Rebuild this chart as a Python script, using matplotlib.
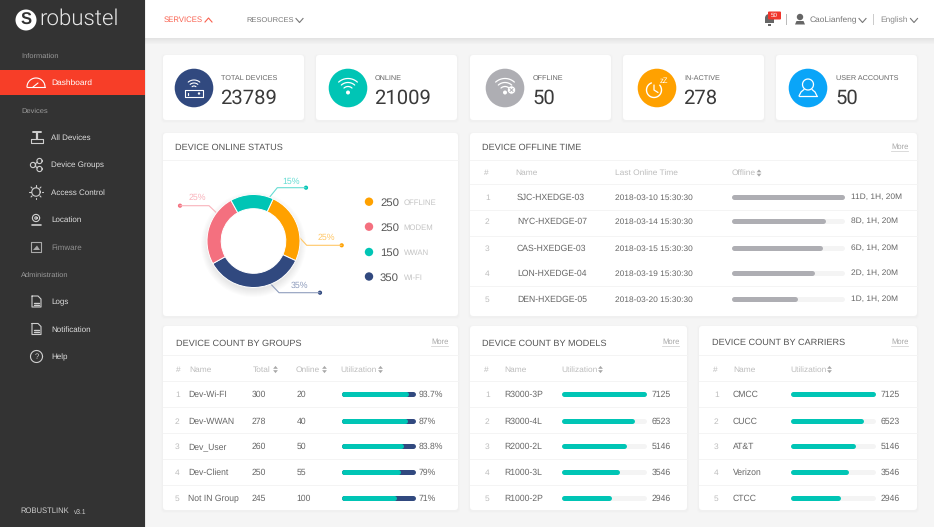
import numpy as np
import matplotlib
matplotlib.use("Agg")
import matplotlib.pyplot as plt
from matplotlib.patches import Rectangle, Circle, FancyBboxPatch, Polygon

plt.rcParams['font.family'] = ['Liberation Sans', 'DejaVu Sans']
plt.rcParams['text.hinting'] = 'no_hinting'

# KPI cards
kpi_labels = ["TOTAL DEVICES", "ONLINE", "OFFLINE", "IN-ACTIVE", "USER ACCOUNTS"]
kpi_values = ["23789", "21009", "50", "278", "50"]

# donut
status_labels = ["OFFLINE", "MODEM", "WWAN", "WI-FI"]
status_values = [250, 250, 150, 350]

# offline table
offline_names = ["SJC-HXEDGE-03", "NYC-HXEDGE-07", "CAS-HXEDGE-03", "LON-HXEDGE-04", "DEN-HXEDGE-05"]
offline_times = ["2018-03-10 15:30:30", "2018-03-14 15:30:30", "2018-03-15 15:30:30",
                 "2018-03-19 15:30:30", "2018-03-20 15:30:30"]
offline_text = ["11D, 1H, 20M", "8D, 1H, 20M", "6D, 1H, 20M", "2D, 1H, 20M", "1D, 1H, 20M"]
offline_fill = [100, 83, 80, 73, 56.5]

# groups table
group_names = ["Dev-Wi-FI", "Dev-WWAN", "Dev_User", "Dev-Client", "Not IN Group"]
group_total = [300, 278, 260, 250, 245]
group_online = [20, 40, 50, 55, 100]
group_util = ["93.7%", "87%", "83.8%", "79%", "71%"]
group_fill = [90, 88.5, 84, 79, 73]

# models and carriers
model_names = ["R3000-3P", "R3000-4L", "R2000-2L", "R1000-3L", "R1000-2P"]
carrier_names = ["CMCC", "CUCC", "AT&T", "Verizon", "CTCC"]
count_values = [7125, 6523, 5146, 3546, 2946]
count_fill = [100, 85, 75, 67, 57]

# sidebar
menu_top = ["All Devices", "Device Groups", "Access Control", "Location", "Fimware"]
menu_admin = ["Logs", "Notification", "Help"]

W, H = 934, 527
RED = "#f73e28"
NAVY = "#31497f"
TEAL = "#00c5b5"
ORANGE = "#ffa100"
PINK = "#f4707f"
GRAY = "#aeaeb3"
BLUE = "#0aa5f8"
TXT = "#4a4a4a"
LIGHT = "#bdbdbd"

fig = plt.figure(figsize=(W / 100, H / 100), dpi=100, facecolor="#f5f5f5")
ax = fig.add_axes([0, 0, 1, 1])
ax.set_xlim(0, W)
ax.set_ylim(H, 0)
ax.axis("off")


def txt(x, y, s, size=6.2, color=TXT, ha="left", **kw):
    kw.setdefault("va", "center_baseline")
    ax.text(x, y, s, fontsize=size, color=color, ha=ha, **kw)


def rect(x0, y0, x1, y1, color, **kw):
    ax.add_patch(Rectangle((x0, y0), x1 - x0, y1 - y0, facecolor=color, edgecolor="none", **kw))


def card(x0, y0, x1, y1):
    for grow, alpha in [(2, 0.008), (1, 0.012)]:
        ax.add_patch(FancyBboxPatch((x0 - grow, y0 - grow + 1), x1 - x0 + 2 * grow, y1 - y0 + 2 * grow,
                                    boxstyle="round,pad=0,rounding_size=3", fc="black", ec="none", alpha=alpha))
    ax.add_patch(FancyBboxPatch((x0, y0), x1 - x0, y1 - y0, boxstyle="round,pad=0,rounding_size=3",
                                fc="white", ec="none"))


def arc(cx, cy, r, a0, a1, color="white", lw=0.9):
    t = np.radians(np.linspace(a0, a1, 40))
    ax.plot(cx + r * np.cos(t), cy - r * np.sin(t), color=color, lw=lw, solid_capstyle="round")


def seg(xs, ys, color="white", lw=0.9):
    ax.plot(xs, ys, color=color, lw=lw, solid_capstyle="round", solid_joinstyle="round")


def chevron(x, y, color, up=False):
    d = -2 if up else 2
    ax.plot([x - 3.5, x, x + 3.5], [y - d, y + d, y - d], color=color, lw=0.8, zorder=4)


def sort_icon(x, y):
    ax.add_patch(Polygon([(x - 2.4, y - 0.7), (x + 2.4, y - 0.7), (x, y - 3.6)], fc="#a8a8a8", ec="none"))
    ax.add_patch(Polygon([(x - 2.4, y + 0.7), (x + 2.4, y + 0.7), (x, y + 3.6)], fc="#a8a8a8", ec="none"))


def wifi(cx, cy, color="white"):
    for r in (6, 10, 14):
        arc(cx, cy, r, 48, 132, color=color, lw=0.9)
    ax.add_patch(Circle((cx, cy), 2, fc=color, ec="none"))


def bar_axes(x0, x1, rows):
    # one axes per table, width of the track, y in rows
    cap = 2.5
    a = fig.add_axes([(x0 + cap) / W, 1 - 510 / H, (x1 - x0 - 2 * cap) / W, (510 - 184) / H])
    a.set_xlim(0, 100)
    a.set_ylim(510, 184)
    a.axis("off")
    a.patch.set_alpha(0)
    return a


def progress(a, rows, fill, color, track="#f4f4f4"):
    for y, v in zip(rows, fill):
        a.plot([0, 100], [y, y], color=track, lw=3.6, solid_capstyle="round", clip_on=False)
        a.plot([0, v], [y, y], color=color, lw=3.6, solid_capstyle="round", clip_on=False)


# sidebar and top bar
rect(145, 0, W, 38, "white", zorder=1)
for i in range(6):
    rect(145, 38 + i, W, 39 + i, "black", alpha=0.07 - 0.011 * i)
rect(0, 0, 145, H, "#333333", zorder=2)
rect(145, 0, 146, H, "black", alpha=0.06, zorder=2)
rect(0, 70, 145, 95, RED, zorder=3)

# logo
ax.add_patch(Circle((26, 20), 10.5, fc="white", ec="none", zorder=3))
ax.text(26, 20.3, "S", fontsize=12, color="#333333", fontweight="bold", ha="center", va="center", zorder=4)
ax.text(39.5, 19, "robustel", fontsize=16, color="#e8e8e8", family="Roboto", fontweight=300,
        ha="left", va="center", zorder=4)

for y, s in [(55.5, "Information"), (110, "Devices"), (274.5, "Administration")]:
    ax.text(21, y, s, fontsize=5.4, color="#9a9a9a", va="center_baseline", zorder=4)
ax.text(51, 82.5, "Dashboard", fontsize=6, color="white", va="center_baseline", zorder=4)
menu_rows = [137, 164.5, 192, 219, 247]
for y, s in zip(menu_rows, menu_top):
    ax.text(51, y, s, fontsize=5.8, color="#8f8f8f" if s == "Fimware" else "#dddddd",
            va="center_baseline", zorder=4)
for y, s in zip([301.5, 329, 356.5], menu_admin):
    ax.text(51, y, s, fontsize=5.8, color="#dddddd", va="center_baseline", zorder=4)
ax.text(20, 510.5, "ROBUSTLINK", fontsize=5.5, color="#cfcfcf", va="center_baseline", zorder=4)
ax.text(74, 511, "v3.1", fontsize=4.8, color="#cfcfcf", va="center_baseline", zorder=4)


def side(xs, ys, lw=0.8, color="#cfcfcf"):
    ax.plot(xs, ys, color=color, lw=lw, zorder=5, solid_capstyle="round")


def side_arc(cx, cy, r, a0=0, a1=360, color="#cfcfcf", lw=0.8):
    t = np.radians(np.linspace(a0, a1, 40))
    ax.plot(cx + r * np.cos(t), cy - r * np.sin(t), color=color, lw=lw, zorder=5)


# gauge
side_arc(36, 87, 9, 0, 180, color="white")
side([27, 45], [87, 87], color="white")
side([33, 38], [87, 83], color="white")
# all devices
side([31, 43, 43, 31, 31], [139, 139, 143, 143, 139])
side([37, 37], [133, 139], lw=1.6)
side([33, 41], [132, 132], lw=1.4)
# groups
side_arc(33, 165, 2.6)
side_arc(39.5, 161, 2.6)
side_arc(39.5, 169, 2.6)
side([35, 37.5], [164, 162])
side([35, 37.5], [166, 168])
# access control
side_arc(36, 192, 4.2)
for ang in range(0, 360, 45):
    c, s = np.cos(np.radians(ang)), np.sin(np.radians(ang))
    side([36 + 5.5 * c, 36 + 7 * c], [192 + 5.5 * s, 192 + 7 * s])
# location
side_arc(36, 218, 3.6)
side_arc(36, 218, 1.2)
side([31.5, 40.5], [224.5, 224.5], lw=1.2)
# firmware
side([31, 41, 41, 31, 31], [242, 242, 252, 252, 242], color="#aaaaaa")
ax.add_patch(Polygon([(33, 250), (37, 245.5), (40, 250)], fc="#aaaaaa", ec="none", zorder=5))
# logs, notification
for y in (301.5, 329):
    side([32, 38, 41, 41, 32, 32], [y - 5.5, y - 5.5, y - 2.5, y + 5.5, y + 5.5, y - 5.5])
    side([34, 39], [y + 1, y + 1], lw=1.0)
    side([34, 39], [y + 3, y + 3], lw=1.0)
# help
side_arc(36.5, 356.5, 6)
ax.text(36.5, 356.7, "?", fontsize=5.5, color="#cfcfcf", ha="center", va="center", zorder=5)

# top bar text
ax.text(164, 19.5, "SERVICES", fontsize=5.6, color="#f9604e", va="center_baseline", zorder=3)
chevron(208.5, 20, "#f9604e", up=True)
ax.text(246, 19.5, "RESOURCES", fontsize=5.4, color="#777777", va="center_baseline", zorder=3)
chevron(299.5, 20.5, "#777777")
ax.add_patch(Circle((769, 18), 4, fc="#666666", ec="none", zorder=3))
rect(764.5, 18, 773.5, 23, "#666666", zorder=3)
rect(767.5, 24, 770.5, 25.5, "#666666", zorder=3)
ax.add_patch(FancyBboxPatch((768, 11.5), 13, 8, boxstyle="round,pad=0,rounding_size=1", fc="#f0352b", ec="none", zorder=4))
ax.text(774.5, 15.5, "50", fontsize=4.5, color="white", ha="center", va="center", zorder=5)
rect(786, 14, 787, 25, "#bbbbbb", zorder=3)
ax.add_patch(Circle((800, 17), 3.2, fc="#666666", ec="none", zorder=3))
ax.add_patch(Polygon([(795, 24.5), (796.5, 21), (803.5, 21), (805, 24.5)], fc="#666666", ec="none", zorder=3))
ax.text(810, 19.8, "CaoLianfeng", fontsize=6, color="#777777", va="center_baseline", zorder=3)
chevron(862.5, 20.5, "#777777")
rect(873, 14, 874, 25, "#cccccc", zorder=3)
ax.text(880, 19.8, "English", fontsize=6, color="#888888", va="center_baseline", zorder=3)
chevron(914, 20.5, "#777777")

# KPI cards
kpi_x = [163, 316, 470, 623, 776]
kpi_circ = [194, 348, 505, 657, 808]
kpi_text = [220, 374, 532, 683, 835]
kpi_color = [NAVY, TEAL, GRAY, ORANGE, BLUE]
for x, cx, tx, col, lab, val in zip(kpi_x, kpi_circ, kpi_text, kpi_color, kpi_labels, kpi_values):
    card(x, 55, x + 141, 120)
    ax.add_patch(Circle((cx, 88), 19.3, fc=col, ec="none"))
    txt(tx + 1, 77, lab, size=5.2, color="#666666")
    ax.text(tx, 96, val, fontsize=14.6, color="#3a3a3a", family="Roboto", ha="left", va="center_baseline")

# KPI icons
cx = kpi_circ[0]
for r in (3, 6, 9):
    arc(cx, 89, r, 50, 130, lw=0.8)
seg([cx - 9, cx + 9, cx + 9, cx - 9, cx - 9], [90, 90, 97, 97, 90], lw=0.8)
seg([cx - 6, cx - 6], [92.5, 94.5], lw=0.9)
ax.add_patch(Circle((cx + 5, 93.5), 1.2, fc="white", ec="none"))
wifi(kpi_circ[1], 92.5)
wifi(kpi_circ[2], 92.5)
ax.add_patch(Circle((kpi_circ[2] + 6.5, 90), 4.2, fc="white", ec=GRAY, lw=0.6))
seg([kpi_circ[2] + 5, kpi_circ[2] + 8], [88.5, 91.5], color=GRAY, lw=0.7)
seg([kpi_circ[2] + 5, kpi_circ[2] + 8], [91.5, 88.5], color=GRAY, lw=0.7)
cx = kpi_circ[3]
arc(cx - 3, 90, 7.5, -250, 40, lw=1.0)
seg([cx - 3, cx - 3, cx + 1], [85, 90, 92.5], lw=0.9)
ax.text(cx + 7, 81, "zZ", fontsize=5.5, color="white", ha="center", va="center")
cx = kpi_circ[4]
arc(cx, 84.5, 5.5, 0, 360, lw=0.9)
seg([cx - 9, cx - 7, cx - 4], [96, 92, 89.5], lw=0.9)
seg([cx + 9, cx + 7, cx + 4], [96, 92, 89.5], lw=0.9)
seg([cx - 9, cx + 9], [96, 96], lw=0.9)

# panels
card(163, 133, 458, 316)
card(470, 133, 917, 316)
card(163, 326, 458, 510)
card(470, 326, 687, 510)
card(699, 326, 917, 510)


def sep(x0, x1, ys):
    for y in ys:
        ax.plot([x0, x1], [y, y], color="#f4f4f4", lw=0.7)


sep(163, 458, [160])
sep(470, 917, [160, 184, 210, 236, 286])
table_seps = [355, 381, 407, 433, 459, 485]
sep(163, 458, table_seps)
sep(470, 687, table_seps)
sep(699, 917, table_seps)

TITLE = 6.55
txt(175, 147, "DEVICE ONLINE STATUS", size=TITLE, color="#555555")
txt(482.5, 147, "DEVICE OFFLINE TIME", size=TITLE, color="#555555")
txt(175.5, 342.5, "DEVICE COUNT BY GROUPS", size=TITLE, color="#555555")
txt(482.5, 342.5, "DEVICE COUNT BY MODELS", size=TITLE, color="#555555")
txt(711.5, 342, "DEVICE COUNT BY CARRIERS", size=TITLE, color="#555555")
for x, y in [(891, 146.5), (431, 341), (662, 341), (891, 341)]:
    txt(x, y, "More", size=5.5, color="#a8a8a8")
    ax.plot([x, x + 17], [y + 4.5, y + 4.5], color="#d5d5d5", lw=0.6)

# donut, drawn clockwise: OFFLINE, WI-FI, MODEM, WWAN
dcx, dcy, dr = 253.5, 241, 46.5
for i in range(8):
    ax.add_patch(Circle((dcx, dcy + 3.5), dr + 6 - i, fc="black", ec="none", alpha=0.012))
ax.add_patch(Circle((dcx, dcy), dr - 5, fc="white", ec="none"))
pie_ax = fig.add_axes([(dcx - dr) / W, 1 - (dcy + dr) / H, 2 * dr / W, 2 * dr / H])
order = [0, 3, 1, 2]
colors = [ORANGE, PINK, TEAL, NAVY]
pie_ax.pie([status_values[i] for i in order], colors=[colors[i] for i in order], startangle=65,
           counterclock=False, radius=1, wedgeprops=dict(width=0.305, edgecolor="white", linewidth=0.7))
pie_ax.set_xlim(-1, 1)
pie_ax.set_ylim(-1, 1)
pie_ax.patch.set_alpha(0)

total = sum(status_values)
leaders = {
    "OFFLINE": ([300, 306.7, 341.7], [238, 245.3, 245.3], 326.7, 236.5),
    "MODEM": ([180, 209, 216.7], [205.7, 205.7, 213], 197, 197),
    "WWAN": ([270, 277.3, 306], [196.7, 187.7, 187.7], 290.7, 181),
    "WI-FI": ([271, 279, 320], [284.3, 292.7, 292.7], 299, 284.7),
}
light = {"OFFLINE": "#ffc766", "MODEM": "#f9b3bb", "WWAN": "#66dcd3", "WI-FI": "#8f9dbd"}
for lab, val, col in zip(status_labels, status_values, colors):
    xs, ys, tx, ty = leaders[lab]
    ax.plot(xs, ys, color=light[lab], lw=0.8)
    end = 0 if lab == "MODEM" else -1
    ax.add_patch(Circle((xs[end], ys[end]), 2.1, fc=col, ec="none"))
    txt(tx, ty, f"{val / total:.0%}", size=6.3, color=light[lab], ha="center")

legend_rows = [201.7, 226.7, 252, 276.5]
for y, lab, val, col in zip(legend_rows, status_labels, status_values, colors):
    ax.add_patch(Circle((369, y), 4.2, fc=col, ec="none"))
    txt(380, y, str(val), size=8.2, color="#555555")
    txt(403.5, y + 0.3, lab, size=5.6, color="#c4c4c4")

# offline table
txt(483.5, 172.5, "#", size=6, color=LIGHT)
txt(515.5, 172.5, "Name", size=6, color=LIGHT)
txt(615, 172.5, "Last Online Time", size=6, color=LIGHT)
txt(731.5, 172.5, "Offline", size=6, color=LIGHT)
sort_icon(759, 173)
offline_rows = [197, 221, 248, 273, 299]
for i, y in enumerate(offline_rows):
    txt(485, y, str(i + 1), size=6, color=LIGHT)
    txt(517, y, offline_names[i], size=6.2, color="#666666")
    txt(615, y, offline_times[i], size=6, color="#666666")
    txt(851, y - 0.5, offline_text[i], size=6, color="#666666")
progress(bar_axes(731, 844, offline_rows), offline_rows, offline_fill, GRAY)

# bottom tables
rows = [394, 420.7, 446, 471.7, 497.7]

txt(176, 369, "#", size=6, color=LIGHT)
txt(189.5, 369, "Name", size=6, color=LIGHT)
txt(252.5, 369, "Total", size=6, color=LIGHT)
sort_icon(275.5, 369.5)
txt(295.5, 369, "Online", size=6, color=LIGHT)
sort_icon(324.5, 369.5)
txt(340, 369, "Utilization", size=6, color=LIGHT)
sort_icon(380.5, 369.5)
for i, y in enumerate(rows):
    txt(175, y, str(i + 1), size=6, color=LIGHT)
    txt(188.5, y, group_names[i], size=6.2, color="#666666")
    txt(251.5, y, str(group_total[i]), size=6.2, color="#666666")
    txt(296.5, y, str(group_online[i]), size=6.2, color="#666666")
    txt(419, y, group_util[i], size=6.2, color="#666666")
progress(bar_axes(341, 415, rows), rows, group_fill, TEAL, track=NAVY)

for name_list, x_num, x_name, x_bar in [(model_names, 485, 504, 561), (carrier_names, 714, 733, 790)]:
    txt(x_num - 1.5, 369, "#", size=6, color=LIGHT)
    txt(x_name, 369, "Name", size=6, color=LIGHT)
    txt(x_bar, 369, "Utilization", size=6, color=LIGHT)
    sort_icon(x_bar + 39.5, 369.5)
    for i, y in enumerate(rows):
        txt(x_num, y, str(i + 1), size=6, color=LIGHT)
        txt(x_name, y, name_list[i], size=6.2, color="#666666")
        txt(x_bar + 91, y, str(count_values[i]), size=6.2, color="#666666")
    progress(bar_axes(x_bar, x_bar + 85.5, rows), rows, count_fill, TEAL)

fig.savefig("out.png", dpi=100, facecolor=fig.get_facecolor())
